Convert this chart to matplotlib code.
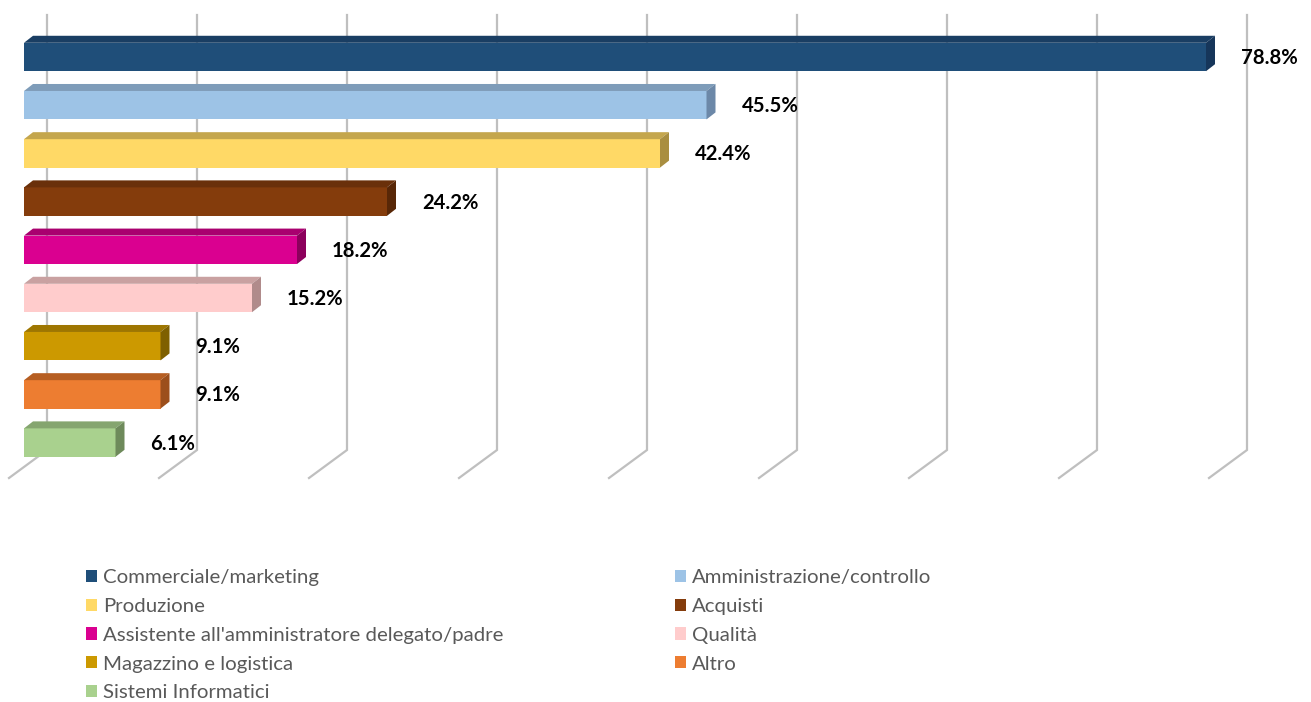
import matplotlib
matplotlib.use("Agg")
import matplotlib.pyplot as plt
from matplotlib.patches import Polygon, Patch

# --- data -------------------------------------------------------------
categories = [
    "Commerciale/marketing",
    "Amministrazione/controllo",
    "Produzione",
    "Acquisti",
    "Assistente all'amministratore delegato/padre",
    "Qualità",
    "Magazzino e logistica",
    "Altro",
    "Sistemi Informatici",
]
values = [78.8, 45.5, 42.4, 24.2, 18.2, 15.2, 9.1, 9.1, 6.1]
tick_values = [0, 10, 20, 30, 40, 50, 60, 70, 80]

# --- colours (front, top, side) ----------------------------------------
front_colors = ["#1F4E79", "#9DC3E6", "#FFD966", "#843C0C", "#DA0090",
                "#FFCCCC", "#CC9900", "#ED7D31", "#A9D18E"]
top_colors = ["#1A3E63", "#7E9CB9", "#C4A64D", "#6A300A", "#A9006F",
              "#C9A1A1", "#9E7600", "#B65E22", "#85A56F"]
side_colors = ["#16365A", "#6C88A8", "#A98E40", "#582707", "#8C005C",
               "#B08B8B", "#7F6000", "#9C4F1C", "#6E8A5B"]
grid_color = "#BFBFBF"
label_font = "Lato"

# --- layout (pixels) ---------------------------------------------------
W, H, DPI = 1311, 702, 100
PX = 15.0        # pixels per percentage point
PY = 48.2        # pixels per category
X0 = 24.0        # pixel x of zero on the bar front plane
Y0 = 57.0        # pixel y of first bar centre
XMIN, XMAX = -1.6, 85.4
YMIN, YMAX = -1.0, 9.5

fig = plt.figure(figsize=(W / DPI, H / DPI), dpi=DPI)
left = (X0 + XMIN * PX) / W
width = (XMAX - XMIN) * PX / W
top_px = Y0 + YMIN * PY
bot_px = Y0 + YMAX * PY
ax = fig.add_axes([left, 1 - bot_px / H, width, (bot_px - top_px) / H])
ax.set_xlim(XMIN, XMAX)
ax.set_ylim(YMAX, YMIN)
ax.axis("off")

def py(pix):
    """pixel row -> data y"""
    return (pix - Y0) / PY

# back-wall / floor gridlines
wall_dx = 23 / PX
floor_dx = -15 / PX
wall_top, wall_bot, floor_front = py(15), py(450), py(478)
for t in tick_values:
    ax.plot([t + wall_dx, t + wall_dx, t + floor_dx],
            [wall_top, wall_bot, floor_front],
            color=grid_color, lw=1.6, solid_joinstyle="miter",
            zorder=1, clip_on=False)

# 3-D style bars
bar_h = 0.59
ddx = 9 / PX
ddy = -7 / PY
ypos = list(range(len(values)))
bars = ax.barh(ypos, values, height=bar_h, left=0, color=front_colors,
               edgecolor="none", zorder=3)
for y, v, tc, sc in zip(ypos, values, top_colors, side_colors):
    yt, yb = y - bar_h / 2, y + bar_h / 2
    ax.add_patch(Polygon([(0, yt), (v, yt), (v + ddx, yt + ddy), (ddx, yt + ddy)],
                         closed=True, facecolor=tc, edgecolor="none", zorder=3))
    ax.add_patch(Polygon([(v, yt), (v + ddx, yt + ddy), (v + ddx, yb + ddy), (v, yb)],
                         closed=True, facecolor=sc, edgecolor="none", zorder=3))
    ax.text(v + 35 / PX, y + 0.02, f"{v:.1f}%", ha="left", va="center",
            fontsize=14.6, fontweight="bold", family=label_font,
            color="#000000", zorder=4, clip_on=False)

# legend: two columns, row-major order
handles = [Patch(facecolor=c, edgecolor="none") for c in front_colors]
common = dict(loc="upper left", frameon=False, borderpad=0,
              borderaxespad=0, handlelength=0.54, handleheight=0.54,
              handletextpad=0.3, labelspacing=0.58,
              prop={"family": label_font, "size": 14.7})
leg1 = fig.legend([handles[i] for i in range(0, 9, 2)],
                  [categories[i] for i in range(0, 9, 2)],
                  bbox_to_anchor=(86 / W, 1 - 569 / H), **common)
leg2 = fig.legend([handles[i] for i in range(1, 9, 2)],
                  [categories[i] for i in range(1, 9, 2)],
                  bbox_to_anchor=(675 / W, 1 - 569 / H), **common)
for leg in (leg1, leg2):
    for txt in leg.get_texts():
        txt.set_color("#595959")

fig.savefig("out.png", dpi=DPI, facecolor="white")
